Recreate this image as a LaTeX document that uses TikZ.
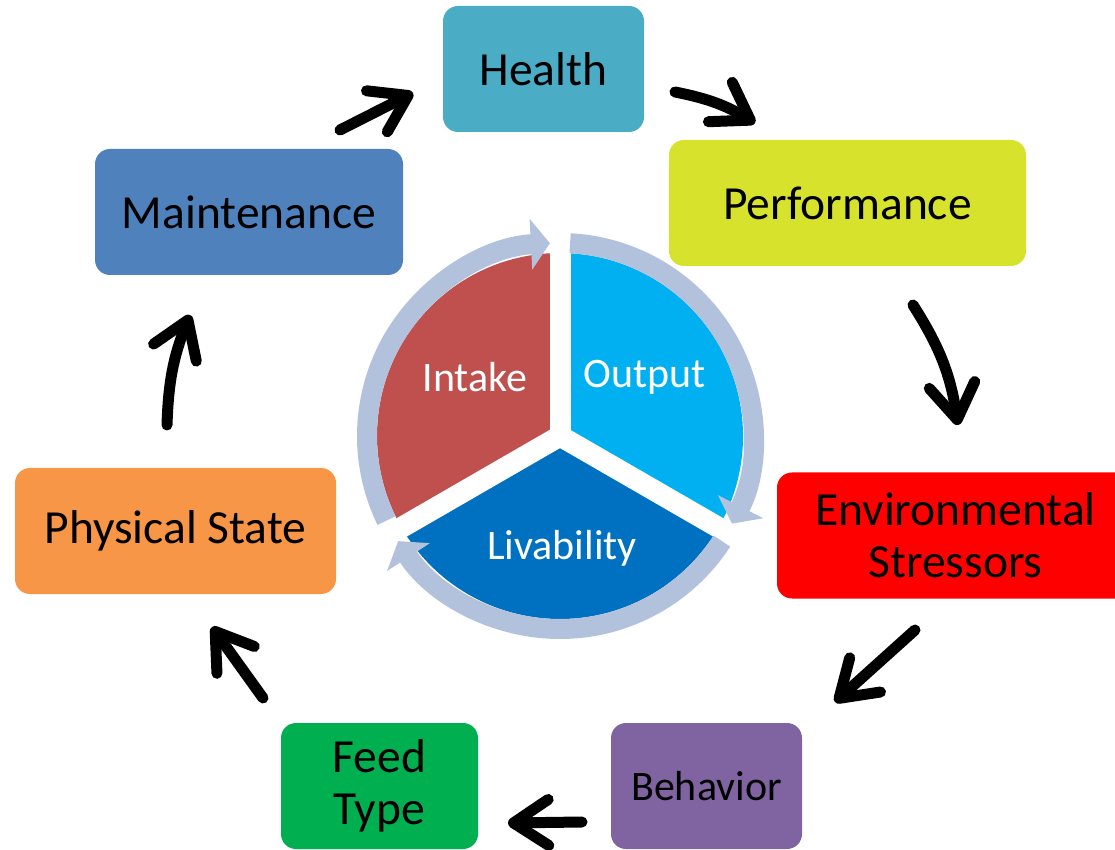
\documentclass[tikz,border=0pt]{standalone}
\usepackage{fontspec}
\setmainfont{Carlito}
\usetikzlibrary{arrows.meta,calc}
\definecolor{ringc}{RGB}{179,194,220}
\definecolor{intakec}{RGB}{192,80,77}
\definecolor{outputc}{RGB}{0,176,240}
\definecolor{livc}{RGB}{0,112,192}
\definecolor{healthc}{RGB}{75,172,198}
\definecolor{perfc}{RGB}{214,226,44}
\definecolor{maintc}{RGB}{79,129,189}
\definecolor{envc}{RGB}{255,0,0}
\definecolor{physc}{RGB}{247,150,70}
\definecolor{behavc}{RGB}{128,100,162}
\definecolor{feedc}{RGB}{0,176,80}
\begin{document}
\begin{tikzpicture}[x=1pt,y=1pt,
  box/.style={rounded corners=15pt, minimum height=126pt, inner sep=0pt, align=center, text=black, font=\fontsize{47.5}{52}\selectfont},
  flow/.style={line width=11pt, line cap=round, -{Straight Barb[length=35pt,width=46pt,round]}},
  ringarc/.style={draw=ringc, line width=20pt, -{Triangle[length=19pt,width=50pt]}},
  lab/.style={text=white, font=\fontsize{42}{46}\selectfont, inner sep=0pt}]
\useasboundingbox (0,0) rectangle (1115,849);
\clip (0,0) rectangle (1115,849);

% boxes
\node[box, fill=healthc, minimum width=201pt] (health) at (543.5,780) {Health};
\node[box, fill=perfc, minimum width=357pt] (perf) at (847.5,646) {Performance};
\node[box, fill=maintc, minimum width=308pt] (maint) at (249,637) {Maintenance};
\node[box, fill=envc, minimum width=357pt] (env) at (955.5,313.5) {Environmental\\Stressors};
\node[box, fill=physc, minimum width=321pt] (phys) at (175.5,318) {Physical State};
\node[box, fill=behavc, minimum width=191pt, font=\fontsize{42}{46}\selectfont] (behav) at (706.5,63) {Behavior};
\node[box, fill=feedc, minimum width=197pt] (feed) at (379.5,63) {Feed\\Type};

% center pie
\coordinate (c) at (560,413);
\fill[intakec] (c) -- ++(90:183) arc[start angle=90,end angle=210,radius=183] -- cycle;
\fill[outputc] (c) -- ++(-30:183) arc[start angle=-30,end angle=90,radius=183] -- cycle;
\fill[livc] (c) -- ++(210:183) arc[start angle=210,end angle=330,radius=183] -- cycle;
\foreach \a in {90,210,330} \draw[white, line width=21pt] (c) -- ++(\a:186);

% ring arrows
\draw[ringarc] ($(c)+(206:193)$) arc[start angle=206,end angle=93,radius=193];
\draw[ringarc] ($(c)+(87:193)$) arc[start angle=87,end angle=-27,radius=193];
\draw[ringarc] ($(c)+(-33:193)$) arc[start angle=-33,end angle=-147,radius=193];

\node[lab] (intake) at (475,472) {Intake};
\node[lab] (output) at (645,472) {Output};
\node[lab] (liv) at (562,301) {Livability};

% flow arrows
\coordinate (a1s) at (340,719); \coordinate (a1e) at (413,756);
\coordinate (a2s) at (675,757); \coordinate (a2e) at (755,726);
\coordinate (a3s) at (913,544); \coordinate (a3e) at (958,424);
\coordinate (a4s) at (915,219); \coordinate (a4e) at (835,147);
\coordinate (a5s) at (582,27);  \coordinate (a5e) at (508,26);
\coordinate (a6s) at (263,151); \coordinate (a6e) at (212,222);
\coordinate (a7s) at (167,424); \coordinate (a7e) at (190,534);
\draw[flow] (a1s) -- (a1e);
\draw[flow] (a2s) to[bend left=10] (a2e);
\draw[flow] (a3s) to[bend left=12] (a3e);
\draw[flow] (a4s) -- (a4e);
\draw[flow] (a5s) -- (a5e);
\draw[flow] (a6s) -- (a6e);
\draw[flow] (a7s) to[bend left=10] (a7e);
\end{tikzpicture}
\end{document}
